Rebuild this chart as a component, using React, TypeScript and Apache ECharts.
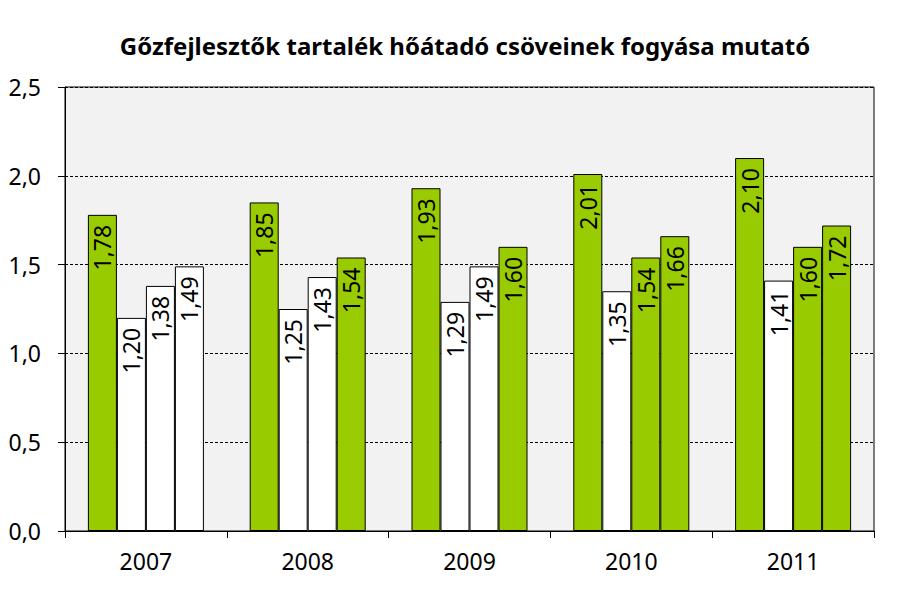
import React, { useEffect, useRef } from "react";
import * as echarts from "echarts";

const categories = ["2007", "2008", "2009", "2010", "2011"];
const series1 = [1.78, 1.85, 1.93, 2.01, 2.1];
const series2 = [1.2, 1.25, 1.29, 1.35, 1.41];
const series3 = [1.38, 1.43, 1.49, 1.54, 1.6];
const series4 = [1.49, 1.54, 1.6, 1.66, 1.72];
// 1 = green fill, 0 = white fill
const fill1 = [1, 1, 1, 1, 1];
const fill2 = [0, 0, 0, 0, 0];
const fill3 = [0, 0, 0, 1, 1];
const fill4 = [0, 1, 1, 1, 1];
const yTicks = [0, 0.5, 1.0, 1.5, 2.0, 2.5];

const GREEN = "#99cc00";
const FONT = "Noto Sans";

export default function App() {
  const ref = useRef<HTMLDivElement>(null);
  useEffect(() => {
    if (!ref.current) return;
    const chart = echarts.init(ref.current, null, { renderer: "svg" });
    const mk = (name: string, values: number[], fills: number[]) => ({
      name,
      type: "bar",
      barWidth: 29,
      barGap: "0%",
      data: values.map((v, i) => ({
        value: v,
        itemStyle: { color: fills[i] ? GREEN : "#ffffff" },
      })),
      itemStyle: { borderColor: "#000", borderWidth: 1 },
      label: {
        show: true,
        position: "insideTop",
        distance: 10,
        rotate: 90,
        align: "right",
        verticalAlign: "middle",
        fontFamily: FONT,
        fontSize: 23,
        color: "#000",
        formatter: (p: any) => Number(p.value).toFixed(2).replace(".", ","),
      },
    });
    chart.setOption({
      animation: false,
      backgroundColor: "#ffffff",
      title: {
        text: "Gőzfejlesztők tartalék hőátadó csöveinek fogyása mutató",
        left: 460,
        textAlign: "center",
        top: 28,
        textStyle: { fontFamily: FONT, fontSize: 24, fontWeight: "bold", color: "#000" },
      },
      grid: {
        left: 65,
        right: 26,
        top: 87,
        bottom: 81,
        show: true,
        backgroundColor: "#f2f2f2",
        borderColor: "#000",
        borderWidth: 1,
      },
      xAxis: {
        type: "category",
        data: categories,
        axisLine: { lineStyle: { color: "#000", width: 1 } },
        axisTick: { show: true, length: 7, alignWithLabel: false, lineStyle: { color: "#000" } },
        axisLabel: { fontFamily: FONT, fontSize: 23, color: "#000", margin: 18 },
      },
      yAxis: {
        type: "value",
        min: yTicks[0],
        max: yTicks[yTicks.length - 1],
        interval: 0.5,
        axisLine: { show: true, lineStyle: { color: "#000", width: 1 } },
        axisTick: { show: true, length: 7, lineStyle: { color: "#000" } },
        splitLine: { show: true, lineStyle: { color: "#000", type: [3, 2], width: 1 } },
        axisLabel: {
          fontFamily: FONT,
          fontSize: 23,
          color: "#000",
          margin: 24,
          formatter: (v: number) => v.toFixed(1).replace(".", ","),
        },
      },
      series: [
        mk("Sorozat1", series1, fill1),
        mk("Sorozat2", series2, fill2),
        mk("Sorozat3", series3, fill3),
        mk("Sorozat4", series4, fill4),
      ],
    });
    return () => chart.dispose();
  }, []);
  return <div ref={ref} style={{ width: 900, height: 612, position: "absolute", left: 0, top: 0 }} />;
}
